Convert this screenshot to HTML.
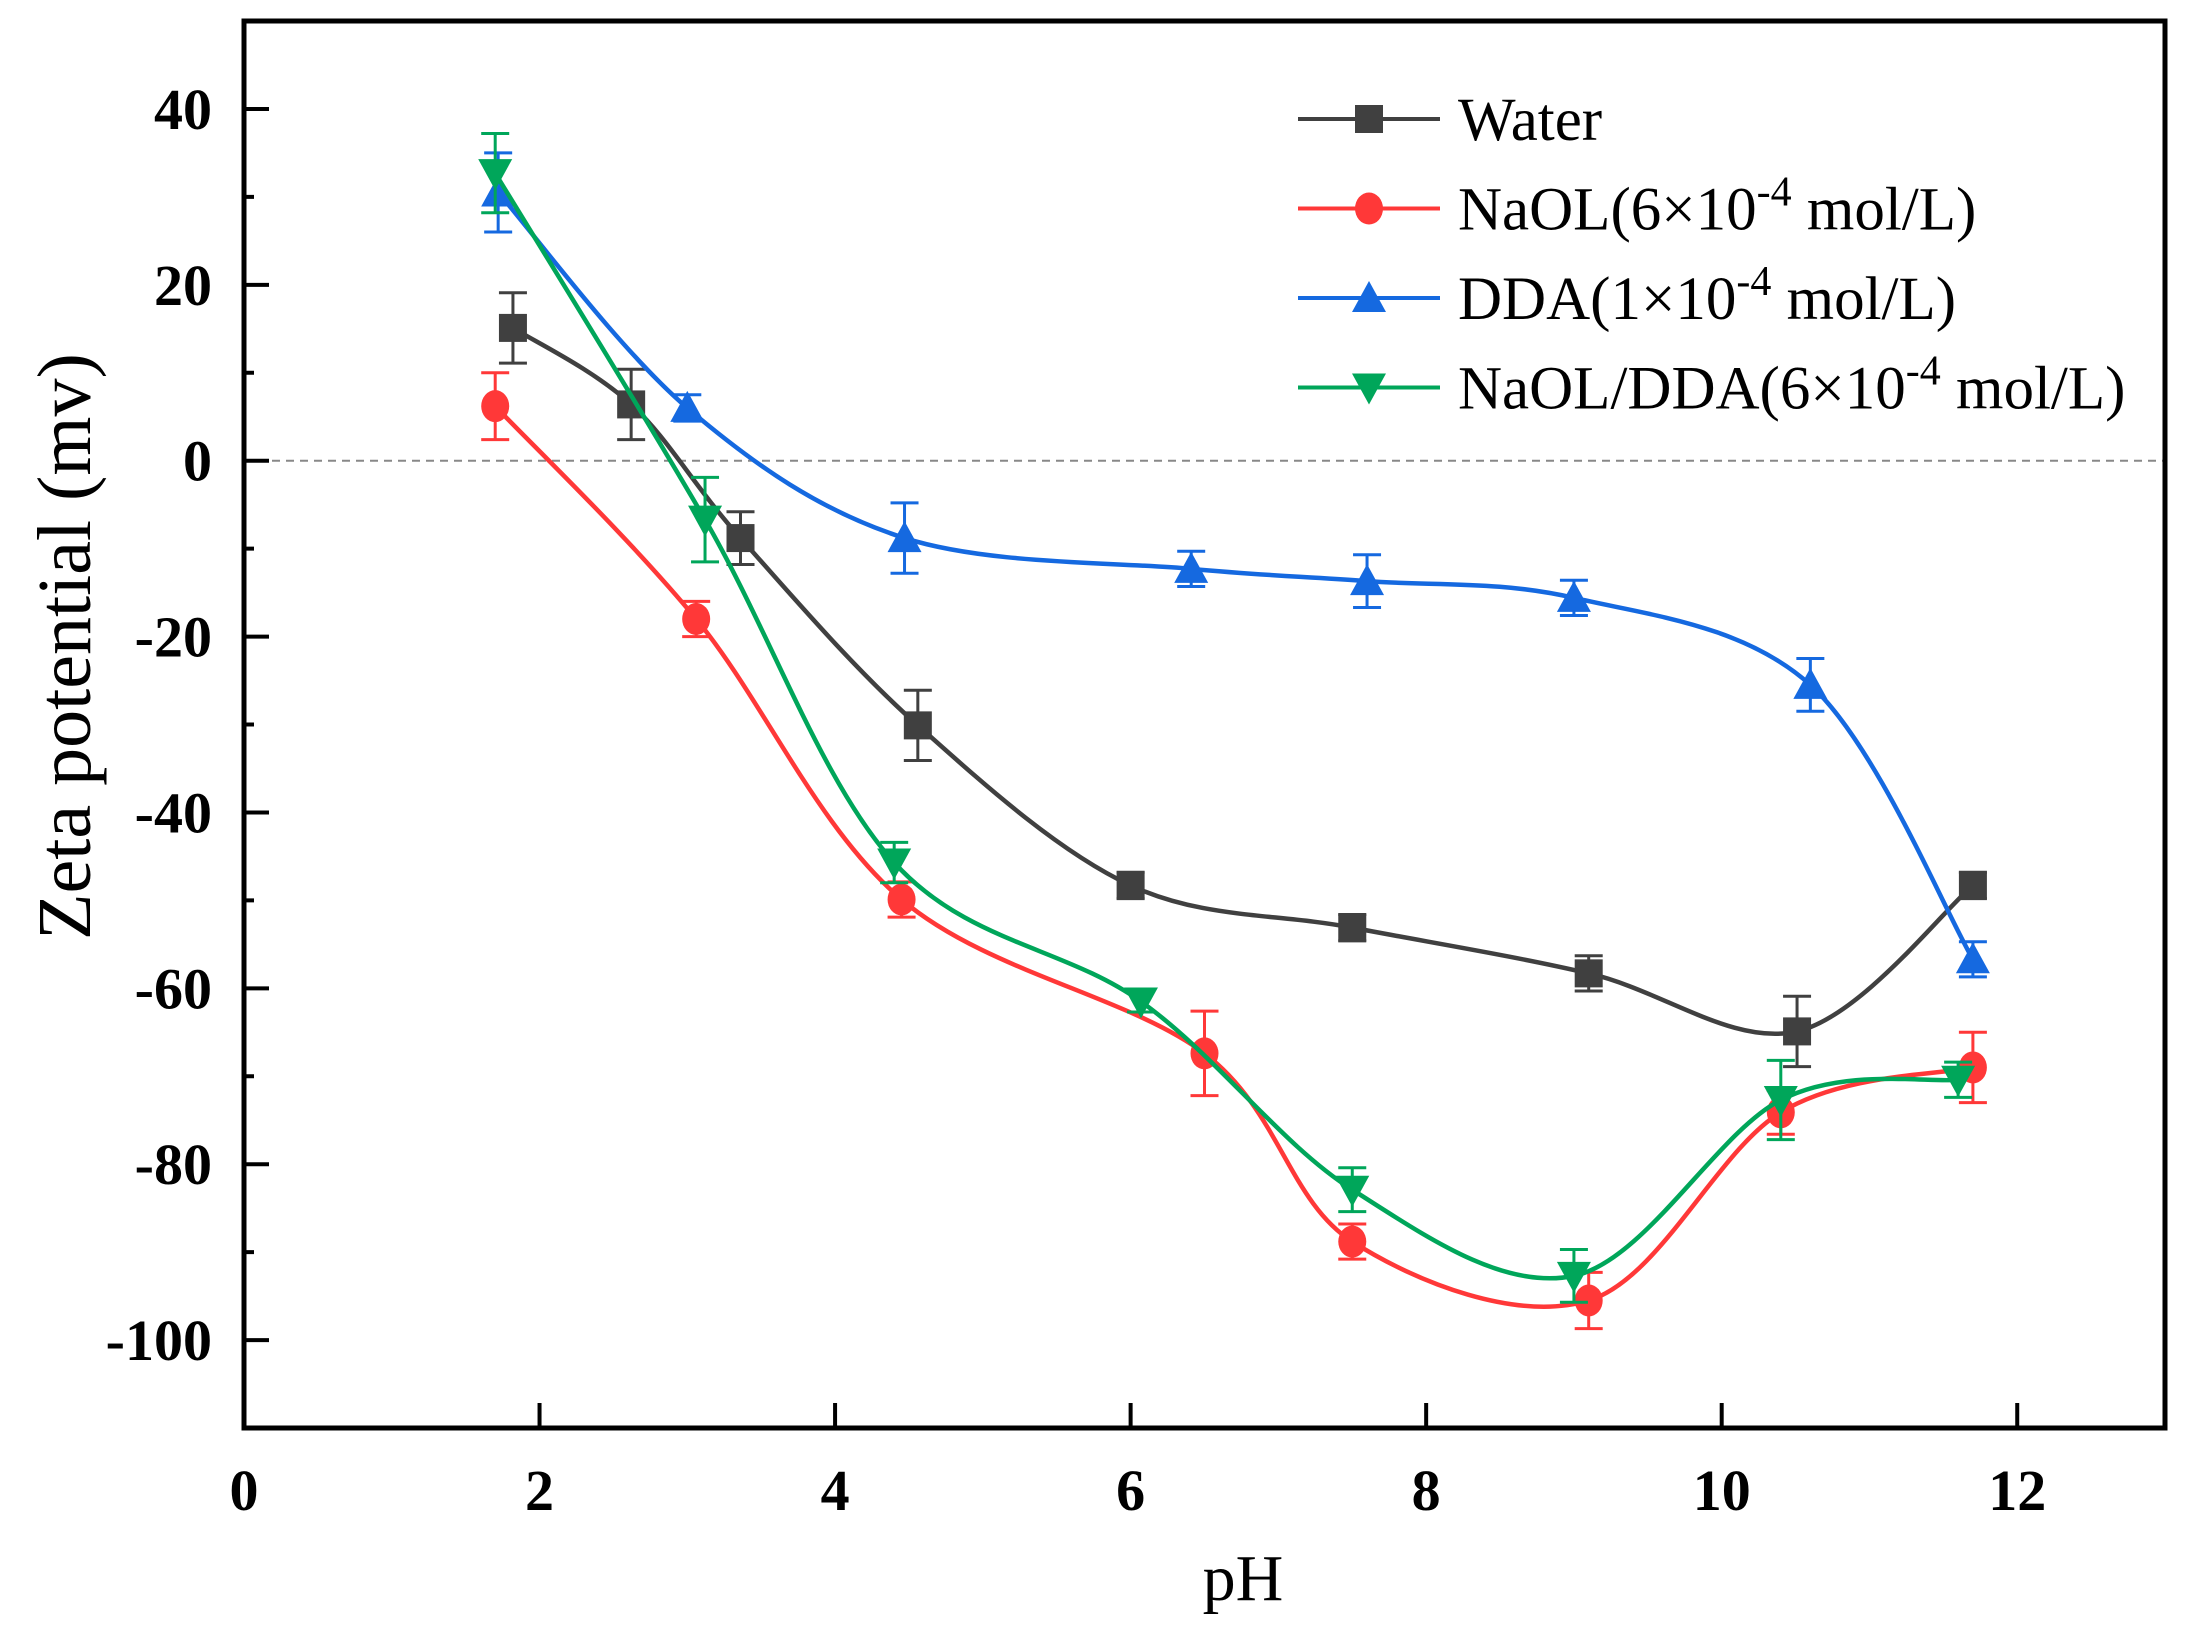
<!DOCTYPE html>
<html><head><meta charset="utf-8"><style>
html,body{margin:0;padding:0;background:#fff;}
svg{display:block;font-family:"Liberation Serif",serif;}
</style></head><body>
<svg id="chart" width="2190" height="1626" viewBox="0 0 2190 1626" xmlns="http://www.w3.org/2000/svg">
<g id="plot"></g>
</svg>
<script>
const xTicks=[0,2,4,6,8,10,12];
const yTicks=[40,20,0,-20,-40,-60,-80,-100];
const seriesNames=["Water","NaOL(6×10","DDA(1×10","NaOL/DDA(6×10"];
const waterX=[1.82,2.62,3.36,4.56,6.0,7.5,9.1,10.51,11.7];
const waterY=[15.1,6.4,-8.8,-30.1,-48.3,-53.1,-58.3,-64.9,-48.3];
const waterErr=[4,4,3,4,1.5,1.5,2,4,1.5];
const naolX=[1.70,3.06,4.45,6.5,7.5,9.1,10.4,11.7];
const naolY=[6.2,-18,-49.9,-67.4,-88.8,-95.5,-74.1,-69];
const naolErr=[3.8,2,2,4.8,2,3.2,2.5,4];
const ddaX=[1.72,3.0,4.47,6.41,7.6,9.0,10.6,11.7];
const ddaY=[30.5,6,-8.8,-12.3,-13.7,-15.6,-25.5,-56.7];
const ddaErr=[4.5,1.5,4,2,3,2,3,2];
const mixX=[1.7,3.12,4.4,6.07,7.5,9.0,10.4,11.6];
const mixY=[32.7,-6.7,-45.7,-61.5,-82.9,-92.7,-72.7,-70.4];
const mixErr=[4.5,4.8,2.3,1.2,2.5,3,4.5,2];

const L=244,R=2165,T=21,B=1428,X0=0,X1=13,Y0=-110,Y1=50;
const sx=v=>L+(v-X0)/(X1-X0)*(R-L);
const sy=v=>B-(v-Y0)/(Y1-Y0)*(B-T);
const NS="http://www.w3.org/2000/svg";
const g=document.getElementById('plot');
function mk(tag,attrs,parent){const e=document.createElementNS(NS,tag);for(const k in attrs)e.setAttribute(k,attrs[k]);(parent||g).appendChild(e);return e;}

const z=mk('line',{x1:L,x2:R,y1:sy(0),y2:sy(0),stroke:'#888','stroke-width':2,'stroke-dasharray':'8,6'});



xTicks.forEach(v=>{
  const t=mk('line',{x1:sx(v),x2:sx(v),y1:B,y2:B-25,stroke:'#000','stroke-width':4});
  
  
  const l=mk('text',{x:sx(v),y:1510,'font-size':58,'font-weight':'bold','text-anchor':'middle'});
  l.textContent=v;
  
  
});
for(let v=-110;v<=50;v+=10){
  const major=yTicks.indexOf(v)>=0;
  const t=mk('line',{x1:L,x2:L+(major?25:10),y1:sy(v),y2:sy(v),stroke:'#000','stroke-width':4});
  
  
}
yTicks.forEach(v=>{
  const l=mk('text',{x:212,y:sy(v)+20,'font-size':58,'font-weight':'bold','text-anchor':'end'});
  l.textContent=v;
  
  
});
const fr=mk('rect',{x:L,y:T,width:R-L,height:B-T,fill:'none',stroke:'#000','stroke-width':5});



const xt=mk('text',{x:1243,y:1600,'font-size':66,'text-anchor':'middle'});
xt.textContent='pH';


const yt=mk('text',{x:0,y:0,'font-size':76,'text-anchor':'middle',transform:'translate(90,'+(sy(-20)+10)+') rotate(-90)'});
yt.textContent='Zeta potential (mv)';



function smoothPath(xs,ys){
  const p=xs.map((x,i)=>[sx(x),sy(ys[i])]);
  let d='M'+p[0][0]+','+p[0][1];
  for(let i=0;i<p.length-1;i++){
    const p0=p[i-1]||p[i],p1=p[i],p2=p[i+1],p3=p[i+2]||p2;
    const c1=[p1[0]+(p2[0]-p0[0])/6,p1[1]+(p2[1]-p0[1])/6];
    const c2=[p2[0]-(p3[0]-p1[0])/6,p2[1]-(p3[1]-p1[1])/6];
    d+=' C'+c1[0]+','+c1[1]+' '+c2[0]+','+c2[1]+' '+p2[0]+','+p2[1];
  }
  return d;
}
function marker(type,cx,cy,color,parent){
  let e;
  const s=14;
  if(type==='square') e=mk('rect',{x:cx-s,y:cy-s,width:2*s,height:2*s,fill:color},parent);
  else if(type==='circle') e=mk('ellipse',{cx:cx,cy:cy,rx:s,ry:s+2,fill:color},parent);
  else if(type==='up') e=mk('polygon',{points:`${cx},${cy-s-3} ${cx-s-3},${cy+s} ${cx+s+3},${cy+s}`,fill:color},parent);
  else e=mk('polygon',{points:`${cx},${cy+s+3} ${cx-s-3},${cy-s} ${cx+s+3},${cy-s}`,fill:color},parent);
  return e;
}
const series=[
  {xs:waterX,ys:waterY,err:waterErr,color:'#404040',m:'square',name:'water'},
  {xs:naolX,ys:naolY,err:naolErr,color:'#ff3838',m:'circle',name:'naol'},
  {xs:ddaX,ys:ddaY,err:ddaErr,color:'#1569e0',m:'up',name:'dda'},
  {xs:mixX,ys:mixY,err:mixErr,color:'#00a65a',m:'down',name:'naol-dda'}
];
series.forEach(s=>{
  const sg=mk('g',{});
  
  
  const p=mk('path',{d:smoothPath(s.xs,s.ys),fill:'none',stroke:s.color,'stroke-width':4.5},sg);
  
  
  s.xs.forEach((x,i)=>{
    const cx=sx(x),cy=sy(s.ys[i]),top=sy(s.ys[i]+s.err[i]),bot=sy(s.ys[i]-s.err[i]);
    const eb=mk('path',{d:`M${cx},${top}V${bot}M${cx-14},${top}H${cx+14}M${cx-14},${bot}H${cx+14}`,stroke:s.color,'stroke-width':3,fill:'none'},sg);
    
    
    const m=marker(s.m,cx,cy,s.color,sg);
    
    
  });
});

const legSup=['','-4','-4','-4'];
const legTail=['',' mol/L)',' mol/L)',' mol/L)'];
const lg=mk('g',{});


series.forEach((s,i)=>{
  const y=119+i*89.5;
  const eg=mk('g',{},lg);
  
  
  mk('line',{x1:1298,x2:1440,y1:y,y2:y,stroke:s.color,'stroke-width':4},eg);
  marker(s.m,1369,y,s.color,eg);
  const t=mk('text',{x:1458,y:y+21,'font-size':61},eg);
  t.appendChild(document.createTextNode(seriesNames[i]));
  if(legSup[i]){
    const sp=document.createElementNS(NS,'tspan');
    sp.setAttribute('dy','-24');sp.setAttribute('font-size','42');
    sp.textContent=legSup[i];t.appendChild(sp);
    const sp2=document.createElementNS(NS,'tspan');
    sp2.setAttribute('dy','24');
    sp2.textContent=legTail[i];t.appendChild(sp2);
  }
});
</script>
</body></html>
